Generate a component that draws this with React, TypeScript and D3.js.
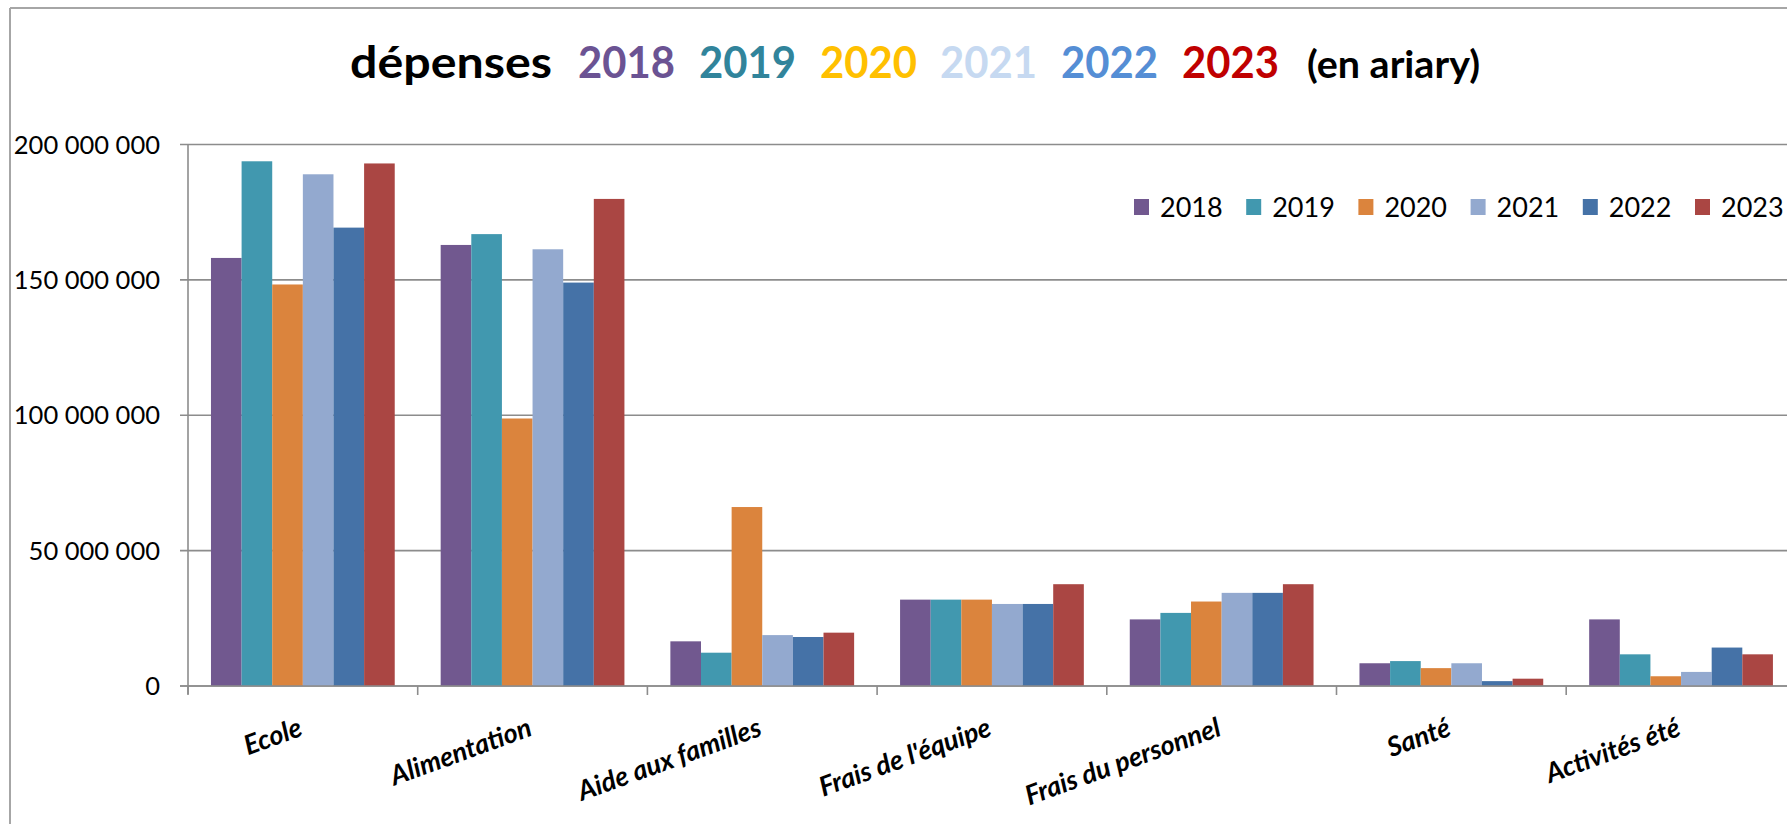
import React from "react";
import * as d3 from "d3";

// dépenses par poste, en ariary
const categories = [
  "Ecole",
  "Alimentation",
  "Aide aux familles",
  "Frais de l'équipe",
  "Frais du personnel",
  "Santé",
  "Activités été",
];
const years = ["2018", "2019", "2020", "2021", "2022", "2023"];

const values2018 = [158100000, 162900000, 16500000, 31900000, 24600000, 8400000, 24600000];
const values2019 = [193800000, 166900000, 12300000, 31900000, 27000000, 9200000, 11700000];
const values2020 = [148300000, 98800000, 66100000, 31900000, 31200000, 6600000, 3600000];
const values2021 = [189000000, 161300000, 18800000, 30300000, 34400000, 8400000, 5200000];
const values2022 = [169300000, 149000000, 18100000, 30300000, 34400000, 1800000, 14200000];
const values2023 = [193000000, 179900000, 19700000, 37600000, 37600000, 2700000, 11700000];

const yTicks = [0, 50000000, 100000000, 150000000, 200000000];

const series = [values2018, values2019, values2020, values2021, values2022, values2023];
const barColors = ["#71588F", "#4198AF", "#DB843D", "#93A9CF", "#4572A7", "#AA4643"];
const titleColors = ["#6B5393", "#31849B", "#FFC000", "#C6D9F1", "#558ED5", "#C00000"];

const W = 1787;
const H = 824;
const axisX = 188;
const zeroY = 686;
const topY = 144.5;
const step = 229.7;
const gridColor = "#8c8c8c";

export default function App() {
  const x0 = d3
    .scaleBand<string>()
    .domain(categories)
    .range([axisX, axisX + step * categories.length])
    .paddingInner(0.2)
    .paddingOuter(0.1);
  const x1 = d3.scaleBand<string>().domain(years).range([0, x0.bandwidth()]);
  const y = d3.scaleLinear().domain([0, 200000000]).range([zeroY, topY]);

  const fr = d3.formatLocale({
    decimal: ",",
    thousands: "\u00a0",
    grouping: [3],
    currency: ["", ""],
  });
  const fmt = fr.format(",d");

  const gap = x0.step() - x0.bandwidth();
  const boundaries = categories.map((c) => (x0(c) as number) - gap / 2);

  const titleX = [578, 699, 820, 940, 1061, 1182];

  return (
    <svg
      width={W}
      height={H}
      style={{ position: "absolute", left: 0, top: 0, display: "block", background: "#fff" }}
    >
      {/* outer frame */}
      <line x1={10} y1={8} x2={W} y2={8} stroke="#a6a6a6" strokeWidth={2} />
      <line x1={10} y1={8} x2={10} y2={H} stroke="#a6a6a6" strokeWidth={2} />

      {/* title */}
      <text y={78} fontFamily="Lato" fontWeight={700} fontSize={44}>
        <tspan x={350} fill="#000" textLength={202} lengthAdjust="spacingAndGlyphs">
          dépenses
        </tspan>
        {years.map((yr, i) => (
          <tspan key={yr} x={titleX[i]} fill={titleColors[i]} textLength={97} lengthAdjust="spacingAndGlyphs">
            {yr}
          </tspan>
        ))}
        <tspan x={1307} fontSize={38} fill="#000" textLength={173} lengthAdjust="spacingAndGlyphs">
          (en ariary)
        </tspan>
      </text>

      {/* gridlines + y axis */}
      {yTicks.map((t) => (
        <g key={t}>
          <line x1={axisX - 8} x2={W} y1={y(t)} y2={y(t)} stroke={gridColor} strokeWidth={1.6} />
          <text
            x={160}
            y={y(t)}
            dy="0.36em"
            textAnchor="end"
            fontFamily="Lato"
            fontSize={25.5}
            fill="#000"
          >
            {fmt(t)}
          </text>
        </g>
      ))}
      <line x1={axisX} x2={axisX} y1={topY} y2={zeroY + 8} stroke={gridColor} strokeWidth={1.6} />
      {boundaries.map((bx, i) => (
        <line key={i} x1={bx} x2={bx} y1={zeroY} y2={zeroY + 9} stroke={gridColor} strokeWidth={1.6} />
      ))}

      {/* bars */}
      {series.map((vals, si) => (
        <g key={years[si]} fill={barColors[si]}>
          {vals.map((v, ci) => (
            <rect
              key={ci}
              x={(x0(categories[ci]) as number) + (x1(years[si]) as number)}
              y={y(v)}
              width={x1.bandwidth()}
              height={zeroY - y(v)}
            />
          ))}
        </g>
      ))}
      <line x1={axisX - 8} x2={W} y1={zeroY} y2={zeroY} stroke={gridColor} strokeWidth={1.6} />

      {/* category labels */}
      {categories.map((c) => (
        <text
          key={c}
          transform={`translate(${(x0(c) as number) + x0.bandwidth() / 2 + 1},735) rotate(-20)`}
          textAnchor="end"
          fontFamily="Lato"
          fontStyle="italic"
          fontWeight={700}
          fontSize={27}
          fill="#000"
        >
          {c}
        </text>
      ))}

      {/* legend */}
      {years.map((yr, i) => {
        const lx = 1134 + i * 112.2;
        return (
          <g key={yr}>
            <rect x={lx} y={199} width={15} height={16} fill={barColors[i]} />
            <text x={lx + 26} y={217} fontFamily="Lato" fontSize={27} fill="#000">
              {yr}
            </text>
          </g>
        );
      })}
    </svg>
  );
}
